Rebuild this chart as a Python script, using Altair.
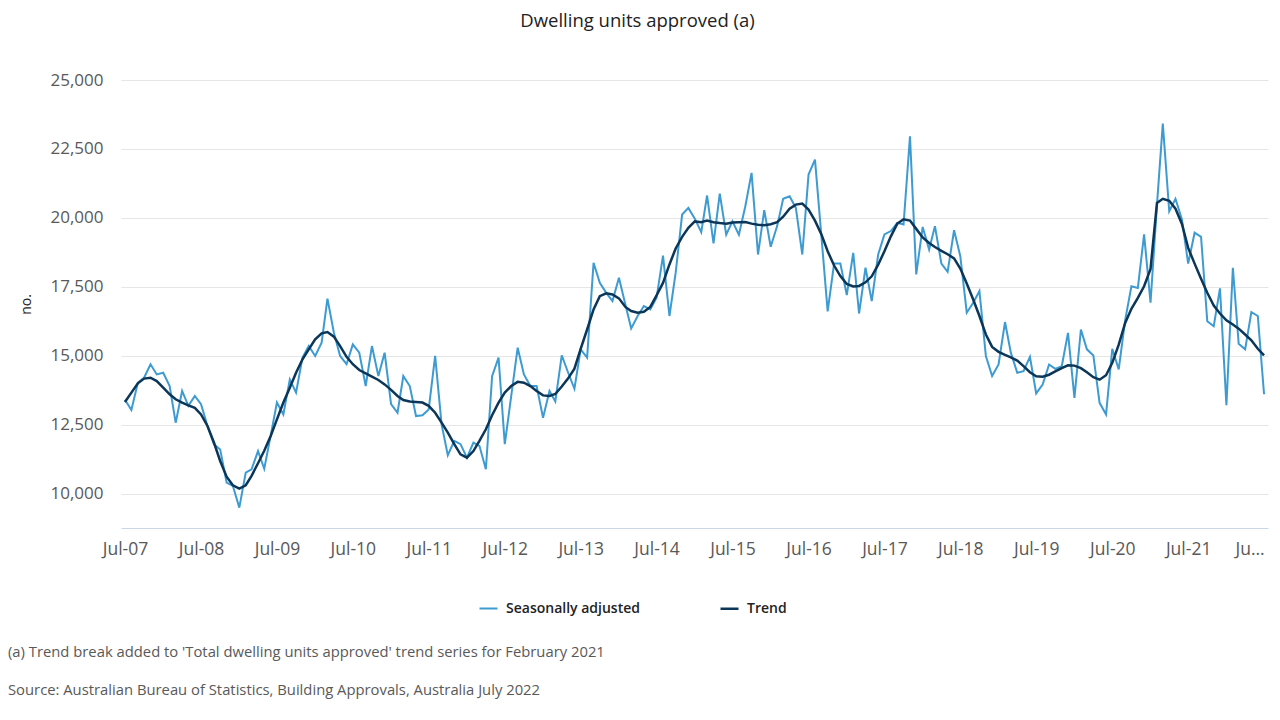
import altair as alt
import pandas as pd

# Monthly, Jul-2007 .. Jul-2022
months = pd.date_range("2007-07-01", "2022-07-01", freq="MS").strftime("%Y-%m-%d").tolist()

seasonally_adjusted = [
    13400, 13030, 14020, 14200, 14690, 14320, 14380, 13900, 12570, 13720, 13180, 13540,
    13240, 12450, 11790, 11600, 10400, 10280, 9490, 10760, 10880, 11540, 10900, 12100,
    13300, 12870, 14140, 13660, 14930, 15350, 14990, 15470, 17070, 15830, 14990, 14690,
    15410, 15110, 13900, 15350, 14260, 15110, 13240, 12930, 14260, 13900, 12810, 12840,
    13050, 14990, 12510, 11390, 11910, 11790, 11300, 11850, 11730, 10880, 14260, 14930,
    11790, 13540, 15290, 14320, 13900, 13900, 12750, 13720, 13340, 15010, 14400, 13800,
    15230, 14930, 18370, 17640, 17280, 16980, 17830, 16860, 15990, 16440, 16800, 16680,
    17100, 18630, 16440, 18010, 20120, 20360, 19970, 19480, 20810, 19070, 20880, 19390,
    19870, 19390, 20420, 21630, 18670, 20280, 18950, 19700, 20690, 20780, 20360, 18670,
    21570, 22110, 19330, 16610, 18340, 18340, 17200, 18730, 16530, 18190, 16980, 18670,
    19400, 19520, 19820, 19760, 22960, 17950, 19670, 18850, 19700, 18340, 18040, 19550,
    18610, 16560, 16920, 17340, 14990, 14260, 14680, 16220, 15110, 14380, 14440, 14960,
    13630, 13950, 14680, 14520, 14620, 15830, 13470, 15950, 15230, 15010, 13290, 12870,
    15250, 14500, 16290, 17520, 17460, 19400, 16920, 20480, 23420, 20240, 20690, 19940,
    18340, 19460, 19310, 16250, 16070, 17440, 13200, 18190, 15430, 15230, 16580, 16440,
    13600,
]

trend = [
    13320, 13660, 14000, 14170, 14200, 14080, 13840, 13600, 13420, 13300, 13200, 13110,
    12870, 12450, 11850, 11180, 10610, 10300, 10180, 10300, 10640, 11100, 11550, 12090,
    12690, 13300, 13840, 14380, 14870, 15230, 15590, 15810, 15860, 15690, 15350, 14960,
    14690, 14480, 14360, 14240, 14120, 13960, 13760, 13540, 13390, 13340, 13320, 13300,
    13180, 12930, 12570, 12210, 11790, 11420, 11300, 11540, 11910, 12330, 12840, 13300,
    13660, 13900, 14050, 14020, 13900, 13720, 13560, 13540, 13610, 13880, 14170, 14530,
    15250, 15950, 16680, 17160, 17260, 17220, 17080, 16770, 16620, 16560, 16590, 16770,
    17190, 17640, 18310, 18890, 19310, 19640, 19870, 19840, 19900, 19840, 19810, 19790,
    19830, 19840, 19850, 19790, 19750, 19730, 19770, 19840, 20040, 20330, 20480, 20520,
    20300, 19900, 19400, 18790, 18270, 17890, 17600, 17510, 17530, 17660, 17880, 18300,
    18790, 19330, 19790, 19950, 19900, 19600, 19290, 19090, 18940, 18800, 18680, 18530,
    18160, 17620, 17040, 16440, 15770, 15320, 15140, 15030, 14940, 14820, 14620, 14400,
    14250, 14240, 14310, 14430, 14550, 14650, 14640, 14550, 14400, 14220, 14130, 14290,
    14740, 15400, 16190, 16700, 17100, 17520, 18150, 20540, 20690, 20620, 20330, 19780,
    18910, 18340, 17790, 17280, 16820, 16530, 16280, 16130, 15980, 15770, 15560, 15250,
    15010,
]

series_names = ["Seasonally adjusted", "Trend"]
series_colors = ["#3d9bd1", "#0c3658"]
y_ticks = [10000, 12500, 15000, 17500, 20000, 22500, 25000]
x_ticks = [f"{y}-07-01" for y in range(2007, 2023)]

title_text = "Dwelling units approved (a)"
footnotes = [
    "(a) Trend break added to 'Total dwelling units approved' trend series for February 2021",
    "Source: Australian Bureau of Statistics, Building Approvals, Australia July 2022",
]

FONT = "Open Sans"

df = pd.concat([
    pd.DataFrame({"month": months, "value": seasonally_adjusted, "series": series_names[0]}),
    pd.DataFrame({"month": months, "value": trend, "series": series_names[1]}),
])

lines = alt.Chart(df).mark_line(interpolate="linear").encode(
    x=alt.X("month:T",
            scale=alt.Scale(domain=["2007-06-12", "2022-07-20"]),
            axis=alt.Axis(values=x_ticks, format="%b-%y", title=None, grid=False,
                          ticks=False, domain=True, domainColor="#ccd6eb", domainWidth=1,
                          labelFont=FONT, labelFontSize=17.5, labelColor="#595959",
                          labelPadding=12, labelFlush=False, labelOverlap=False,
                          labelExpr="year(datum.value) == 2022 ? 'Ju\u2026' : datum.label",
                          labelAlign={"condition": {"test": "year(datum.value) == 2022", "value": "right"},
                                      "value": "center"})),
    y=alt.Y("value:Q",
            scale=alt.Scale(domain=[8750, 25000], nice=False, zero=False),
            axis=alt.Axis(values=y_ticks, format=",d", title="no.", grid=True,
                          gridColor="#e6e6e6", gridWidth=1, ticks=False, domain=False,
                          labelFont=FONT, labelFontSize=17, labelColor="#595959",
                          labelPadding=18, titleFont=FONT, titleFontSize=14,
                          titleFontWeight="normal", titleColor="#222222", titlePadding=16)),
    color=alt.Color("series:N",
                    scale=alt.Scale(domain=series_names, range=series_colors),
                    legend=alt.Legend(title=None, orient="none", direction="horizontal",
                                      legendX=357, legendY=518, columns=2, columnPadding=75,
                                      symbolType="stroke", symbolSize=324, symbolStrokeWidth=3,
                                      labelFont=FONT, labelFontSize=14, labelFontWeight=600,
                                      labelColor="#222222", labelOffset=7, padding=0)),
    strokeWidth=alt.StrokeWidth("series:N",
                                scale=alt.Scale(domain=series_names, range=[2, 2.5]),
                                legend=None),
)

notes_df = pd.DataFrame({"text": footnotes, "row": [0, 1]})
note1 = alt.Chart(notes_df.iloc[[0]]).mark_text(
    align="left", baseline="middle", x=-113, y=573, font=FONT, fontSize=14.8, color="#595959"
).encode(text="text:N")
note2 = alt.Chart(notes_df.iloc[[1]]).mark_text(
    align="left", baseline="middle", x=-113, y=611, font=FONT, fontSize=14.8, color="#595959"
).encode(text="text:N")

chart = alt.layer(lines, note1, note2).properties(
    width=1147,
    height=448,
    title=alt.TitleParams(title_text, font=FONT, fontSize=18.5, fontWeight="normal",
                          color="#222222", anchor="middle", dx=-57, offset=41),
    autosize=alt.AutoSizeParams(type="none"),
    padding={"left": 113, "top": 72, "right": 4, "bottom": 178},
).configure_view(stroke=None)

chart.save("out.html", embed_options={"renderer": "svg", "actions": False})
